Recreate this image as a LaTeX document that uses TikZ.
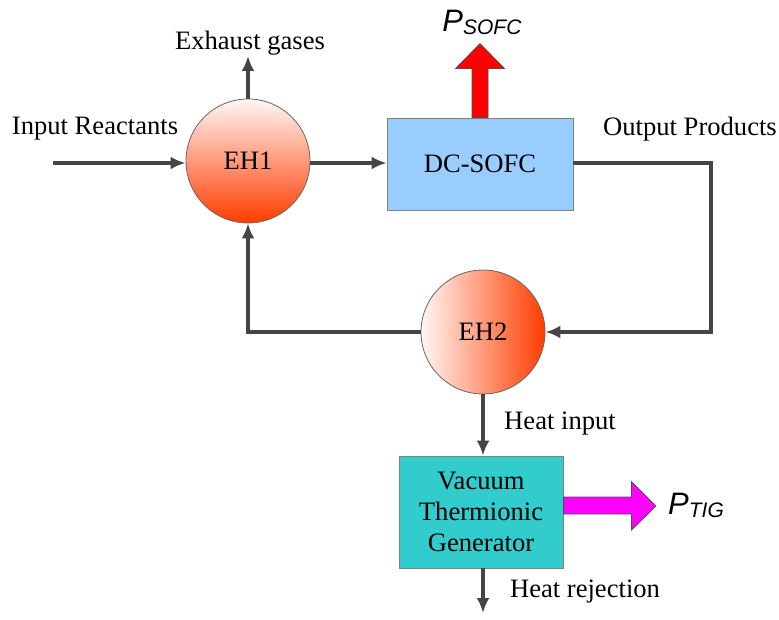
\documentclass[tikz,border=0pt]{standalone}
\usepackage{fontspec}
\setmainfont{Liberation Serif}
\setsansfont{Liberation Sans}
\usepackage{tikz}
\usepackage{xcolor}
\usetikzlibrary{arrows.meta,calc}

\definecolor{linegray}{HTML}{454545}
\definecolor{ehlight}{HTML}{FFF6F4}
\definecolor{ehdark}{HTML}{FF3C00}
\definecolor{sofcblue}{HTML}{99CCFF}
\definecolor{vtgteal}{HTML}{33CCCC}
\definecolor{tigpink}{HTML}{FF00FF}
\definecolor{sofcred}{HTML}{FF0000}
\newcommand{\powlabel}[1]{\textsf{\fontsize{15.5}{18}\selectfont\textit{P}\raisebox{-1.5pt}{\fontsize{10.5}{12}\selectfont\textit{#1}}}}

\begin{document}
\begin{tikzpicture}[x=0.5pt,y=-0.5pt,every node/.style={font=\fontsize{13.3}{15.5}\selectfont},
  flow/.style={draw=linegray,line width=1.7pt,-{Latex[length=7.5pt,width=6.5pt]}},
  heater/.style={circle,draw=gray!80!black,minimum size=62pt,inner sep=0pt},
  unitbox/.style={rectangle,draw=gray,inner sep=0pt,align=center},
  powarrow/.style={draw=black!70,line width=0.4pt}]
\useasboundingbox (0,0) rectangle (779,619);
% heaters and units
\node[heater,top color=ehlight,bottom color=ehdark] (eh1) at (248,161) {EH1};
\node[unitbox,fill=sofcblue,minimum width=93pt,minimum height=46pt] (sofc) at (480,164) {DC-SOFC};
\node[heater,left color=ehlight,right color=ehdark] (eh2) at (483,332) {EH2};
\node[unitbox,fill=vtgteal,minimum width=82pt,minimum height=56pt] (vtg) at (481,512) {Vacuum\\Thermionic\\Generator};
% labels
\node (inlab) at (95,129) {Input Reactants};
\node (exlab) at (250,43) {Exhaust gases};
\node (outlab) at (690,129) {Output Products};
\node (hilab) at (560,424) {Heat input};
\node (hrlab) at (585,592) {Heat rejection};
\node (psofc) at (482,22) {\powlabel{SOFC}};
\node (ptig) at (696,505) {\powlabel{TIG}};
\coordinate (feed) at (53,163);
\coordinate (exhaust) at (248,56);
\coordinate (reject) at (483,613);
\coordinate (corner) at (711,163);
% flows
\draw[flow] (feed) -- (feed -| eh1.west);
\draw[flow] (eh1.north) -- (exhaust);
\draw[flow] (eh1.east |- feed) -- (sofc.west |- feed);
\draw[flow] (sofc.east |- corner) -- (corner) -- (corner |- eh2.east) -- (eh2.east);
\draw[flow] (eh2.west) -- (eh2.west -| eh1.south) -- (eh1.south);
\draw[flow] (eh2.south) -- (eh2.south |- vtg.north);
\draw[flow] (vtg.south -| eh2.south) -- (reject);
% power outputs
\draw[powarrow,fill=sofcred] ($(sofc.north)+(-8,0)$) -- ++(0,-49) -- ++(-16.5,0)
  -- ($(sofc.north)+(0,-74)$) -- ($(sofc.north)+(24.5,-49)$) -- ++(-16.5,0)
  -- ($(sofc.north)+(8,0)$) -- cycle;
\draw[powarrow,fill=tigpink] ($(vtg.east)+(0,-15)$) -- ++(68,0) -- ++(0,-15.5)
  -- ($(vtg.east)+(92.5,-6)$) -- ($(vtg.east)+(68,18)$) -- ++(0,-16)
  -- ($(vtg.east)+(0,2)$) -- cycle;
\end{tikzpicture}
\end{document}
